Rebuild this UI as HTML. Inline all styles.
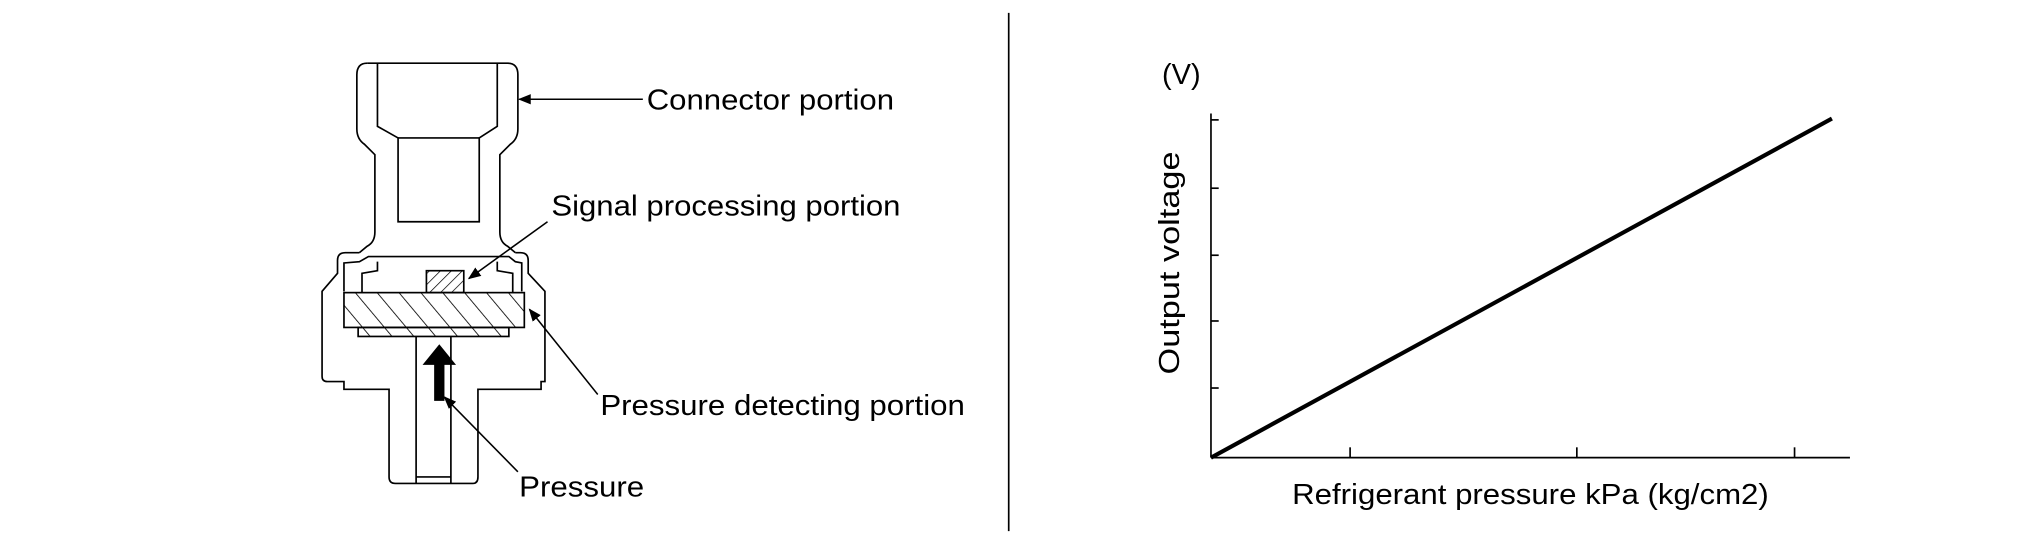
<!DOCTYPE html>
<html><head><meta charset="utf-8"><style>
html,body{margin:0;padding:0;background:#fff;}
svg{display:block}
text{font-family:"Liberation Sans",sans-serif;fill:#000}
</style></head><body>
<svg width="2020" height="544" viewBox="0 0 1568 422" preserveAspectRatio="none" xmlns="http://www.w3.org/2000/svg">
<defs>
<pattern id="h1" patternUnits="userSpaceOnUse" width="13" height="13" patternTransform="rotate(-40)">
<line x1="0" y1="0" x2="0" y2="13" stroke="#000" stroke-width="1.3"/></pattern>
<pattern id="h2" patternUnits="userSpaceOnUse" width="6" height="6" patternTransform="rotate(45)">
<line x1="0" y1="0" x2="0" y2="6" stroke="#000" stroke-width="1.1"/></pattern>
<marker id="ar" markerWidth="10" markerHeight="8" refX="9" refY="4" orient="auto" markerUnits="userSpaceOnUse">
<path d="M0,0 L10,4 L0,8 z" fill="#000"/></marker>
</defs>
<line x1="783" y1="10" x2="783" y2="412" stroke="#000" stroke-width="1.3"/>
<g fill="none" stroke="#000" stroke-width="1.3">
<path d="M285,49 L394,49 Q402,49 402,58 L402,100 Q402,108 396,112 L388,120 L388,180 Q388,188 394,191 L400,196"/>
<path d="M285,49 Q277,49 277,58 L277,100 Q277,108 283,112 L291,120 L291,180 Q291,188 285,191 L279,196"/>
<path d="M293,49 L293,98 L309,107 L309,172 L372,172 L372,107 L386,98 L386,49"/>
<path d="M309,107 L372,107"/>
<path d="M279,196 L268,196 Q262,196 262,202 L262,212 L250,226 L250,292 Q250,296 254,296 L267,296 L267,300 L267,302 L302,302 L302,370 Q302,375 307,375 L367,375 Q371,375 371,370 L371,302 L420,302 L420,296 L423,296 L423,226 L410,212 L410,202 Q410,196 404,196 L400,196"/>
<path d="M267,226 L267,204 L279,203 L286,199 L395,199 L400,203 L405,204 L405,226"/>
<path d="M281,227 L281,212 L293,210 L293,203 M386,203 L386,210 L398,212 L398,227"/>
<rect x="267" y="227" width="140" height="27" fill="url(#h1)"/>
<rect x="278" y="254" width="117" height="7" fill="url(#h1)"/>
<rect x="331" y="210" width="29" height="17" fill="url(#h2)"/>
<path d="M323,261 L323,375 M350,261 L350,375 M323,370 L350,370"/>
</g>
<path d="M337,283 L345,283 L345,311 L337,311 z M328,283 L341,267 L354,283 z" fill="#000"/>
<g stroke="#000" stroke-width="1.2" fill="none" marker-end="url(#ar)">
<line x1="499" y1="77" x2="403" y2="77"/>
<line x1="425" y1="172" x2="364" y2="216"/>
<line x1="464" y1="306" x2="411" y2="240"/>
<line x1="402" y1="366" x2="345" y2="308"/>
</g>
<g font-size="22" lengthAdjust="spacingAndGlyphs">
<text x="502" y="85" textLength="192" lengthAdjust="spacingAndGlyphs">Connector portion</text>
<text x="428" y="167" textLength="271" lengthAdjust="spacingAndGlyphs">Signal processing portion</text>
<text x="466" y="322" textLength="283" lengthAdjust="spacingAndGlyphs">Pressure detecting portion</text>
<text x="403" y="385" textLength="97" lengthAdjust="spacingAndGlyphs">Pressure</text>
</g>
<g stroke="#000" stroke-width="1.3" fill="none">
<line x1="940" y1="88" x2="940" y2="355"/>
<line x1="940" y1="355" x2="1436" y2="355"/>
<line x1="940" y1="93" x2="946" y2="93"/>
<line x1="940" y1="146" x2="946" y2="146"/>
<line x1="940" y1="198" x2="946" y2="198"/>
<line x1="940" y1="249" x2="946" y2="249"/>
<line x1="940" y1="301" x2="946" y2="301"/>
<line x1="1048" y1="347" x2="1048" y2="355"/>
<line x1="1224" y1="347" x2="1224" y2="355"/>
<line x1="1393" y1="347" x2="1393" y2="355"/>
</g>
<line x1="940" y1="355" x2="1422" y2="92" stroke="#000" stroke-width="3.2"/>
<g font-size="22">
<text x="902" y="65" textLength="30" lengthAdjust="spacingAndGlyphs">(V)</text>
<text transform="translate(915,204) rotate(-90)" text-anchor="middle" textLength="173" lengthAdjust="spacingAndGlyphs">Output voltage</text>
<text x="1003" y="391" textLength="370" lengthAdjust="spacingAndGlyphs">Refrigerant pressure kPa (kg/cm2)</text>
</g>
</svg>
</body></html>
